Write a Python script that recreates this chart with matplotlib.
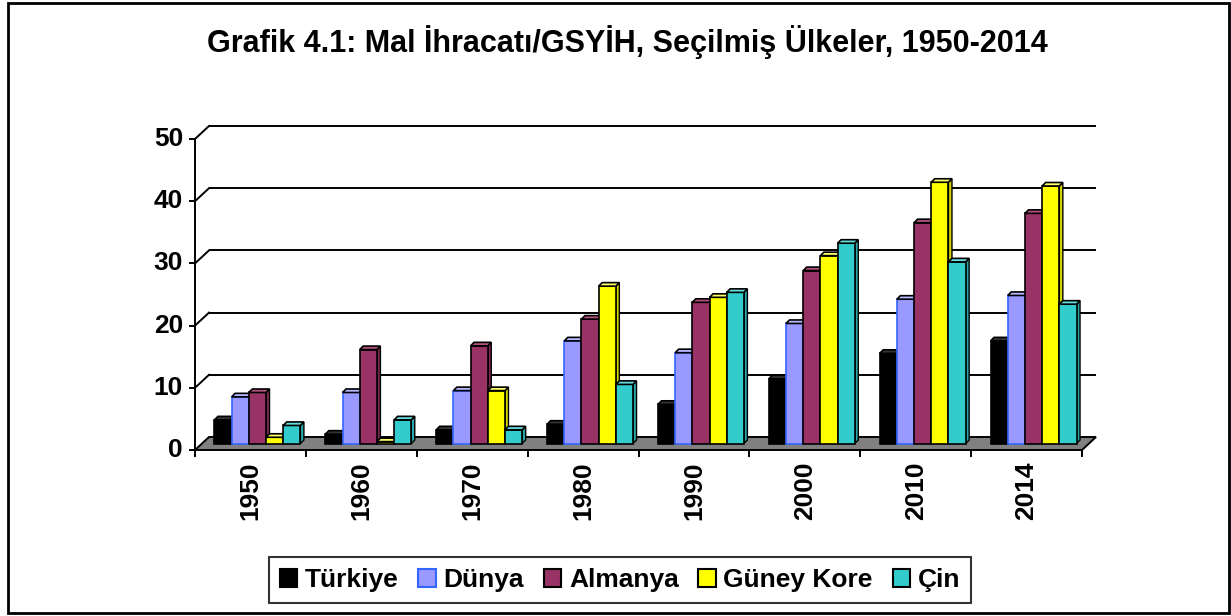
import matplotlib
matplotlib.use("Agg")
import matplotlib.pyplot as plt
from matplotlib.patches import Polygon, Rectangle, Patch
import numpy as np

plt.rcParams['font.family'] = ['Liberation Sans', 'DejaVu Sans']

years = ["1950", "1960", "1970", "1980", "1990", "2000", "2010", "2014"]
series = ["Türkiye", "Dünya", "Almanya", "Güney Kore", "Çin"]
turkiye = [3.8, 1.5, 2.2, 3.1, 6.3, 10.4, 14.5, 16.5]
dunya = [7.5, 8.2, 8.5, 16.5, 14.6, 19.3, 23.2, 23.8]
almanya = [8.2, 15.1, 15.7, 20.0, 22.7, 27.8, 35.5, 37.0]
guney_kore = [1.0, 0.3, 8.5, 25.3, 23.5, 30.2, 42.0, 41.4]
cin = [2.9, 3.8, 2.2, 9.5, 24.3, 32.2, 29.2, 22.4]
values = [turkiye, dunya, almanya, guney_kore, cin]
yticks = [0, 10, 20, 30, 40, 50]
title = "Grafik 4.1: Mal İhracatı/GSYİH, Seçilmiş Ülkeler, 1950-2014"

front_col = ["#000000", "#9999FF", "#993366", "#FFFF00", "#33CCCC"]
side_col = ["#000000", "#7F7FD6", "#7A2850", "#D6D600", "#28A8A8"]
top_col = ["#333333", "#B8B8FF", "#B0507E", "#FFFF66", "#66DDDD"]
edge_col = ["#000000", "#3366FF", "#000000", "#000000", "#000000"]

W, H = 1231, 616
fig = plt.figure(figsize=(W / 100, H / 100), dpi=100)

# mid-depth frame in pixels
x0p, x1p = 202.0, 1089.0
y0p, y50p = 443.5, 132.5
ax = fig.add_axes([x0p / W, (H - y0p) / H, (x1p - x0p) / W, (y0p - y50p) / H])
ncat = len(years)
ax.set_xlim(0, ncat)
ax.set_ylim(0, 50)
ax.axis("off")

ux = (x1p - x0p) / ncat  # px per x unit
uy = (y0p - y50p) / 50.0  # px per y unit
dxd = 7.0 / ux
dyd = 6.5 / uy

LW = 1.4

# floor
floor = Polygon([(-dxd, -dyd), (ncat - dxd, -dyd), (ncat + dxd, dyd), (dxd, dyd)],
                closed=True, facecolor="#808080", edgecolor="black", lw=LW,
                clip_on=False, zorder=2)
ax.add_patch(floor)

# back-wall gridlines and side diagonals
for v in yticks:
    if v > 0:
        ax.plot([dxd, ncat + dxd], [v + dyd, v + dyd], color="black", lw=LW,
                clip_on=False, zorder=1, solid_capstyle="butt")
        ax.plot([-dxd, dxd], [v - dyd, v + dyd], color="black", lw=LW,
                clip_on=False, zorder=1)

# front y axis
ax.plot([-dxd, -dxd], [-dyd, 50 - dyd], color="black", lw=LW, clip_on=False, zorder=3)
for v in yticks:
    ax.plot([-dxd - 5.0 / ux, -dxd], [v - dyd, v - dyd], color="black", lw=LW,
            clip_on=False, zorder=3)
    ax.text(-dxd - 12.0 / ux, v - dyd, str(v), ha="right", va="center",
            fontsize=19, fontweight="bold", clip_on=False)

# front x axis ticks and labels
for k in range(ncat + 1):
    ax.plot([k - dxd, k - dxd], [-dyd, -dyd - 6.0 / uy], color="black", lw=LW,
            clip_on=False, zorder=3)
for k, yr in enumerate(years):
    ax.text(k + 0.5 - dxd, -dyd - 11.0 / uy, yr, rotation=90, ha="center", va="top",
            fontsize=19, fontweight="bold", clip_on=False)

# bars
w = 0.155
tdx = 3.5 / ux
tdy = 3.5 / uy
xc = np.arange(ncat) + 0.5
for i, vals in enumerate(values):
    xs = xc + (i - 2) * w
    z = 10 + i
    ax.bar(xs, vals, width=w, color=front_col[i], edgecolor=edge_col[i], lw=1.2,
           zorder=z + 0.2, clip_on=False)
    for x, v in zip(xs, vals):
        side = Polygon([(x + w / 2, 0), (x + w / 2, v), (x + w / 2 + tdx, v + tdy),
                        (x + w / 2 + tdx, tdy)], closed=True, facecolor=side_col[i],
                       edgecolor="black", lw=1.0, zorder=z, clip_on=False)
        top = Polygon([(x - w / 2, v), (x + w / 2, v), (x + w / 2 + tdx, v + tdy),
                       (x - w / 2 + tdx, v + tdy)], closed=True, facecolor=top_col[i],
                      edgecolor="black", lw=1.2, zorder=z + 0.3, clip_on=False)
        ax.add_patch(side)
        ax.add_patch(top)

# title
fig.text(627.5 / W, (H - 52) / H, title, ha="center", va="baseline",
         fontsize=22, fontweight="bold")

# legend
handles = [Patch(facecolor=front_col[i], edgecolor=edge_col[i], lw=1.5) for i in range(5)]
leg = fig.legend(handles, series, loc="center", bbox_to_anchor=(620 / W, (H - 580) / H),
                 ncol=5, frameon=True, fancybox=False, edgecolor="black",
                 prop={"size": 19, "weight": "bold"}, handlelength=0.65,
                 handleheight=0.65, handletextpad=0.3, columnspacing=0.75,
                 borderpad=0.4, borderaxespad=0)
leg.get_frame().set_linewidth(1.5)

# outer border
fig.patches.append(Rectangle((8 / W, (H - 613) / H), (1229 - 8) / W, (613 - 3) / H,
                             transform=fig.transFigure, fill=False, edgecolor="black",
                             lw=2.0, zorder=0))

fig.savefig("out.png", dpi=100)
